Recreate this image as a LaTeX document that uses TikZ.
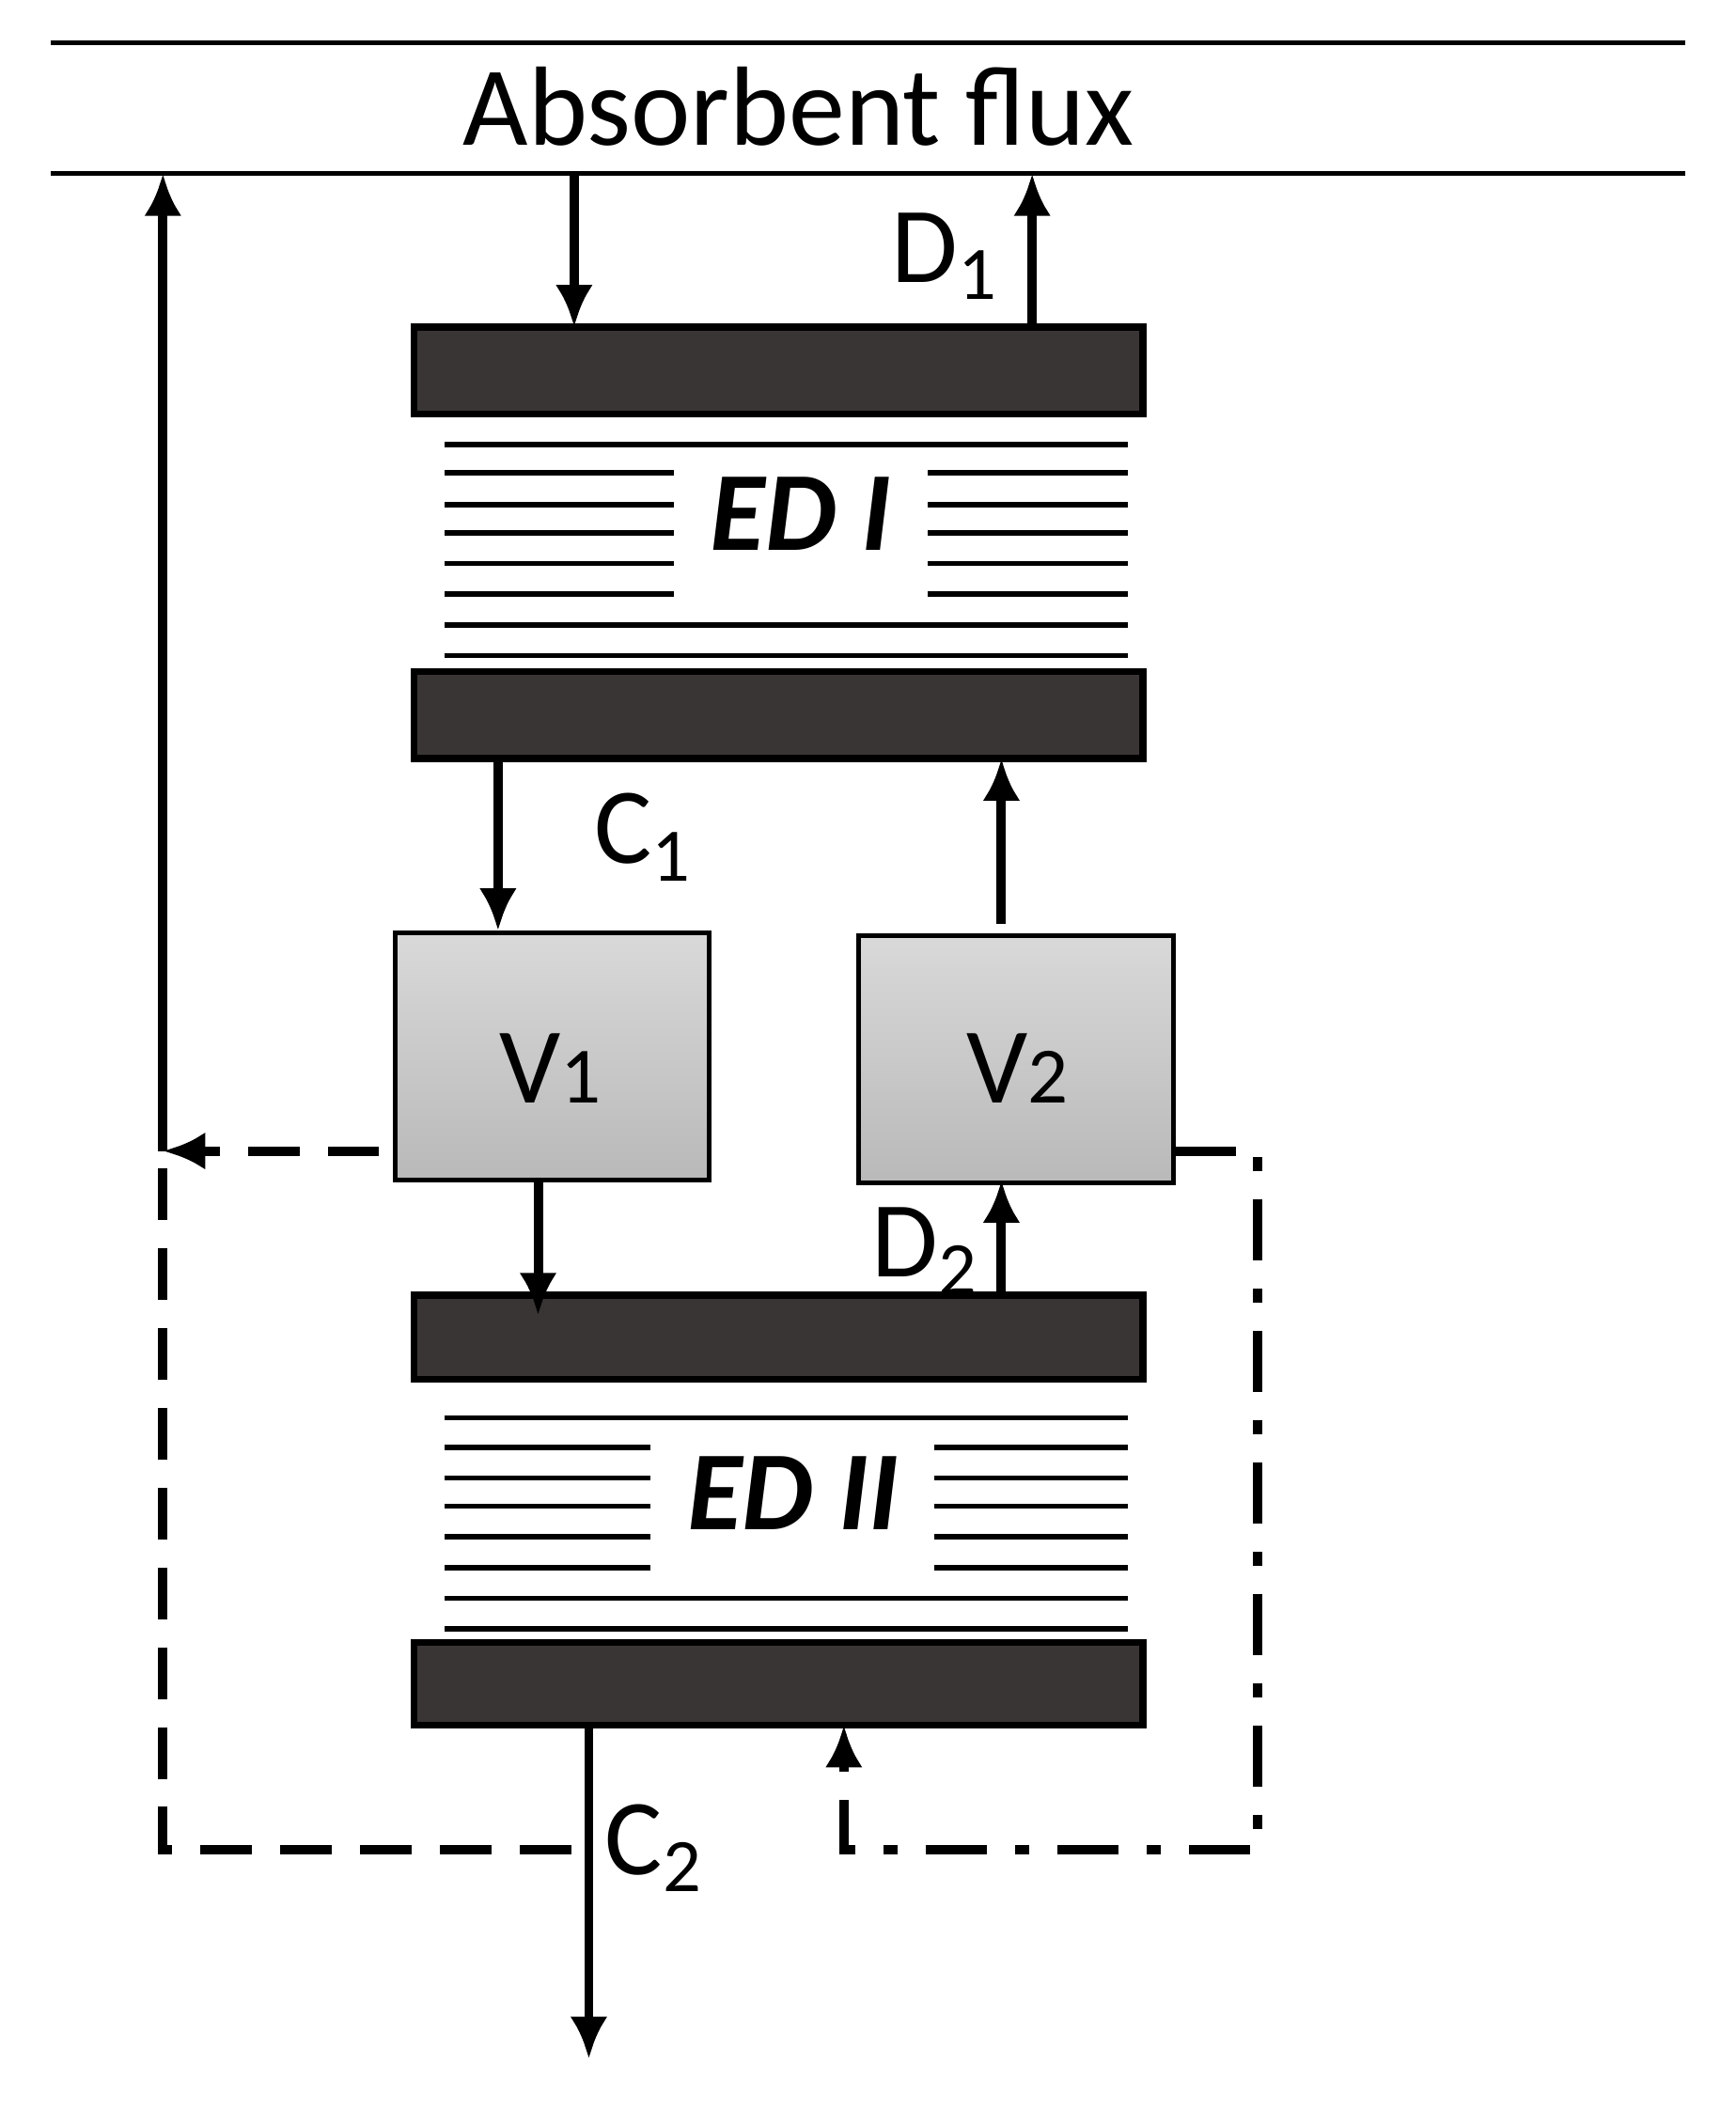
\documentclass[tikz,border=0pt]{standalone}
\usepackage{fontspec}
\setmainfont{Carlito}
\usetikzlibrary{arrows.meta}
\definecolor{bar}{HTML}{3A3535}
\begin{document}
\begin{tikzpicture}[x=0.01cm,y=-0.01cm,
  flow/.style={line width=2pt,-{Latex[length=9pt,width=8pt]}},
  barr/.style={fill=bar,draw=black,line width=1.5pt},
  vbox/.style={draw=black,line width=1pt,top color=gray!30,bottom color=gray!55},
  memb/.style={line width=1.1pt},
  lbl/.style={font=\fontsize{23}{23}\selectfont},
  edl/.style={font=\bfseries\itshape\fontsize{24}{24}\selectfont},
  dsh/.style={line width=2pt,dash pattern=on 11pt off 6pt},
  dd/.style={line width=2pt,dash pattern=on 13pt off 6pt on 3pt off 6pt}]
\useasboundingbox (0,0) rectangle (1300,1581);
\draw[line width=1pt] (38,32) -- (1262,32);
\draw[line width=1pt] (38,130) -- (1262,130);
\node[font=\fontsize{24}{24}\selectfont] (abs) at (598,80) {Absorbent flux};
\coordinate (t0) at (122,130);
% bars
\path[barr] (310,245) rectangle (856,310);
\path[barr] (310,503) rectangle (856,568);
\path[barr] (310,970) rectangle (856,1033);
\path[barr] (310,1230) rectangle (856,1292);
% membranes ED I
\foreach \y in {333,468,491} \draw[memb] (333,\y) -- (845,\y);
\foreach \y in {354,378,399,422,445} {\draw[memb] (333,\y) -- (505,\y); \draw[memb] (695,\y) -- (845,\y);}
\node[edl] (ed1) at (600,385) {ED I};
% membranes ED II
\foreach \y in {1062,1197,1220} \draw[memb] (333,\y) -- (845,\y);
\foreach \y in {1084,1107,1128,1151,1174} {\draw[memb] (333,\y) -- (487,\y); \draw[memb] (700,\y) -- (845,\y);}
\node[edl] (ed2) at (594,1118) {ED II};
% V boxes
\node[vbox,minimum width=2.35cm,minimum height=1.85cm,anchor=north west] (v1) at (294,697) {};
\node[lbl] at (412,800) {V\fontsize{17}{17}\selectfont 1};
\node[vbox,minimum width=2.36cm,minimum height=1.85cm,anchor=north west] (v2) at (641,699) {};
\node[lbl] at (762,800) {V\fontsize{17}{17}\selectfont 2};
% arrows
\draw[flow] (430,130) -- (430,245);
\draw[flow] (773,245) -- (773,130);
\node[lbl] (d1) at (708,192) {D$_{\mathrm{1}}$};
\draw[flow] (122,862) -- (t0);
\draw[flow] (373,568) -- (373,697);
\node[lbl] (c1) at (482,627) {C$_{\mathrm{1}}$};
\draw[flow] (750,692) -- (750,568);
\draw[flow] (403,882) -- (403,985);
\draw[flow] (750,970) -- (750,884);
\node[lbl] (d2) at (693,937) {D$_{\mathrm{2}}$};
\draw[flow] (441,1292) -- (441,1542);
\node[lbl] (c2) at (490,1384) {C$_{\mathrm{2}}$};
% dashed
\draw[dsh,-{Latex[length=9pt,width=8pt]}] (284,862) -- (122,862);
\draw[dsh] (122,875) -- (122,1385) -- (440,1385);
% dash dot
\draw[dd,-{Latex[length=9pt,width=8pt]}] (880,862) -- (942,862) -- (942,1385) -- (632,1385) -- (632,1292);
\end{tikzpicture}
\end{document}
